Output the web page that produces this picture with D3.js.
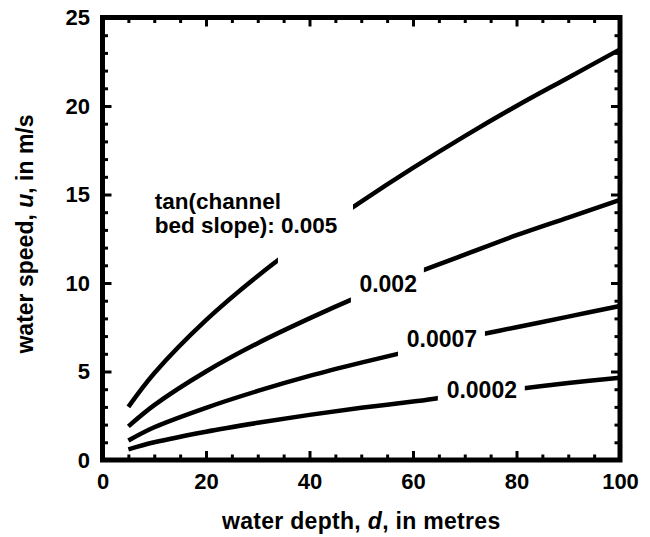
<!DOCTYPE html>
<html><head><meta charset="utf-8">
<script src="https://cdn.jsdelivr.net/npm/d3@7"></script>
<style>
body{margin:0;background:#fff}
svg{display:block}
text{font-family:"Liberation Sans",Arial,Helvetica,sans-serif;font-weight:bold;fill:#000}
</style>
</head><body>
<svg id="chart" width="650" height="537"></svg>
<script>
// ---- data ----
const depths = [5, 10, 20, 30, 40, 50, 60, 70, 80, 90, 100];
const slopeLabels = ["0.005", "0.002", "0.0007", "0.0002"];
const speedSlope0005 = [3.0, 4.9, 7.9, 10.4, 12.6, 14.6, 16.5, 18.3, 20.0, 21.6, 23.2];
const speedSlope0002 = [1.9, 3.1, 5.0, 6.6, 8.0, 9.3, 10.5, 11.6, 12.7, 13.7, 14.7];
const speedSlope00007 = [1.1, 1.85, 2.95, 3.9, 4.75, 5.5, 6.2, 6.9, 7.5, 8.1, 8.7];
const speedSlope00002 = [0.6, 1.0, 1.6, 2.1, 2.55, 2.95, 3.3, 3.7, 4.0, 4.35, 4.65];
const xTickValues = [0, 20, 40, 60, 80, 100];
const yTickValues = [0, 5, 10, 15, 20, 25];
const xMinorTicks = d3.range(0, 101, 5).filter(v => v % 20 !== 0);
const yMinorTicks = d3.range(0, 26, 1).filter(v => v % 5 !== 0);

const seriesSpeeds = [speedSlope0005, speedSlope0002, speedSlope00007, speedSlope00002];

// ---- layout ----
const svg = d3.select("#chart");
const L = 102.5, R = 620, T = 17.5, B = 460;
const x = d3.scaleLinear().domain([0, 100]).range([L, R]);
const y = d3.scaleLinear().domain([0, 25]).range([B, T]);

// label placement (data units) and gaps in each curve around its label
const labelPlace = [
  {gap: [33.9, 48.4], d: 35.4, u: 12.8, anchor: "start"},
  {gap: [48.0, 62.1], d: 55.2, u: 9.49, anchor: "middle"},
  {gap: [57.1, 73.9], d: 65.6, u: 6.38, anchor: "middle"},
  {gap: [64.8, 81.6], d: 73.3, u: 3.5, anchor: "middle"}
];

const defs = svg.append("defs");
const line = d3.line()
  .x((d, i) => x(depths[i]))
  .y(d => y(d))
  .curve(d3.curveCatmullRom.alpha(0.5));

seriesSpeeds.forEach((vals, k) => {
  const g = labelPlace[k].gap;
  const cp = defs.append("clipPath").attr("id", "clip" + k);
  cp.append("rect").attr("x", 0).attr("y", 0).attr("width", x(g[0])).attr("height", 537);
  cp.append("rect").attr("x", x(g[1])).attr("y", 0).attr("width", 650 - x(g[1])).attr("height", 537);
  svg.append("path")
    .datum(vals)
    .attr("d", line)
    .attr("fill", "none")
    .attr("stroke", "#000")
    .attr("stroke-width", 4.5)
    .attr("stroke-linecap", "butt")
    .attr("clip-path", "url(#clip" + k + ")");
});

// curve labels
svg.append("text").attr("x", x(10.1)).attr("y", y(14.2))
  .attr("font-size", 22.5).text("tan(channel");
svg.append("text").attr("x", x(10.1)).attr("y", y(12.8))
  .attr("font-size", 22.5).text("bed slope): " + slopeLabels[0]);
labelPlace.forEach((p, k) => {
  if (k === 0) return;
  svg.append("text").attr("x", x(p.d)).attr("y", y(p.u))
    .attr("text-anchor", p.anchor).attr("font-size", 23).text(slopeLabels[k]);
});

// axes (ticks point inward)
function styleAxis(g) {
  g.select(".domain").remove();
  g.selectAll(".tick line").attr("stroke", "#000").attr("stroke-width", 3);
  g.attr("font-family", null).attr("font-size", 22);
  g.selectAll("text").attr("font-size", 22);
}
const majorLen = 9, minorLen = 5.5;
svg.append("g").attr("transform", `translate(0,${B})`)
  .call(d3.axisBottom(x).tickValues(xTickValues).tickSizeInner(-majorLen).tickSizeOuter(0).tickPadding(13.5).tickFormat(d3.format("d")))
  .call(styleAxis);
svg.append("g").attr("transform", `translate(0,${B})`)
  .call(d3.axisBottom(x).tickValues(xMinorTicks).tickSizeInner(-minorLen).tickSizeOuter(0).tickFormat(""))
  .call(styleAxis);
svg.append("g").attr("transform", `translate(0,${T})`)
  .call(d3.axisTop(x).tickValues(xTickValues).tickSizeInner(-majorLen).tickSizeOuter(0).tickFormat(""))
  .call(styleAxis);
svg.append("g").attr("transform", `translate(0,${T})`)
  .call(d3.axisTop(x).tickValues(xMinorTicks).tickSizeInner(-minorLen).tickSizeOuter(0).tickFormat(""))
  .call(styleAxis);
svg.append("g").attr("transform", `translate(${L},0)`)
  .call(d3.axisLeft(y).tickValues(yTickValues).tickSizeInner(-majorLen).tickSizeOuter(0).tickPadding(12.5).tickFormat(d3.format("d")))
  .call(styleAxis);
svg.append("g").attr("transform", `translate(${L},0)`)
  .call(d3.axisLeft(y).tickValues(yMinorTicks).tickSizeInner(-minorLen).tickSizeOuter(0).tickFormat(""))
  .call(styleAxis);
svg.append("g").attr("transform", `translate(${R},0)`)
  .call(d3.axisRight(y).tickValues(yTickValues).tickSizeInner(-majorLen).tickSizeOuter(0).tickFormat(""))
  .call(styleAxis);
svg.append("g").attr("transform", `translate(${R},0)`)
  .call(d3.axisRight(y).tickValues(yMinorTicks).tickSizeInner(-minorLen).tickSizeOuter(0).tickFormat(""))
  .call(styleAxis);

// frame
svg.append("rect").attr("x", L).attr("y", T).attr("width", R - L).attr("height", B - T)
  .attr("fill", "none").attr("stroke", "#000").attr("stroke-width", 5);

// axis titles
const xt = svg.append("text").attr("x", (L + R) / 2).attr("y", 529)
  .attr("text-anchor", "middle").attr("font-size", 23).attr("letter-spacing", 0.3);
xt.append("tspan").text("water depth, ");
xt.append("tspan").attr("font-style", "italic").text("d");
xt.append("tspan").text(", in metres");

const yt = svg.append("text").attr("transform", "translate(33,234) rotate(-90)")
  .attr("text-anchor", "middle").attr("font-size", 23);
yt.append("tspan").text("water speed, ");
yt.append("tspan").attr("font-style", "italic").text("u");
yt.append("tspan").text(", in m/s");
</script>
</body></html>
